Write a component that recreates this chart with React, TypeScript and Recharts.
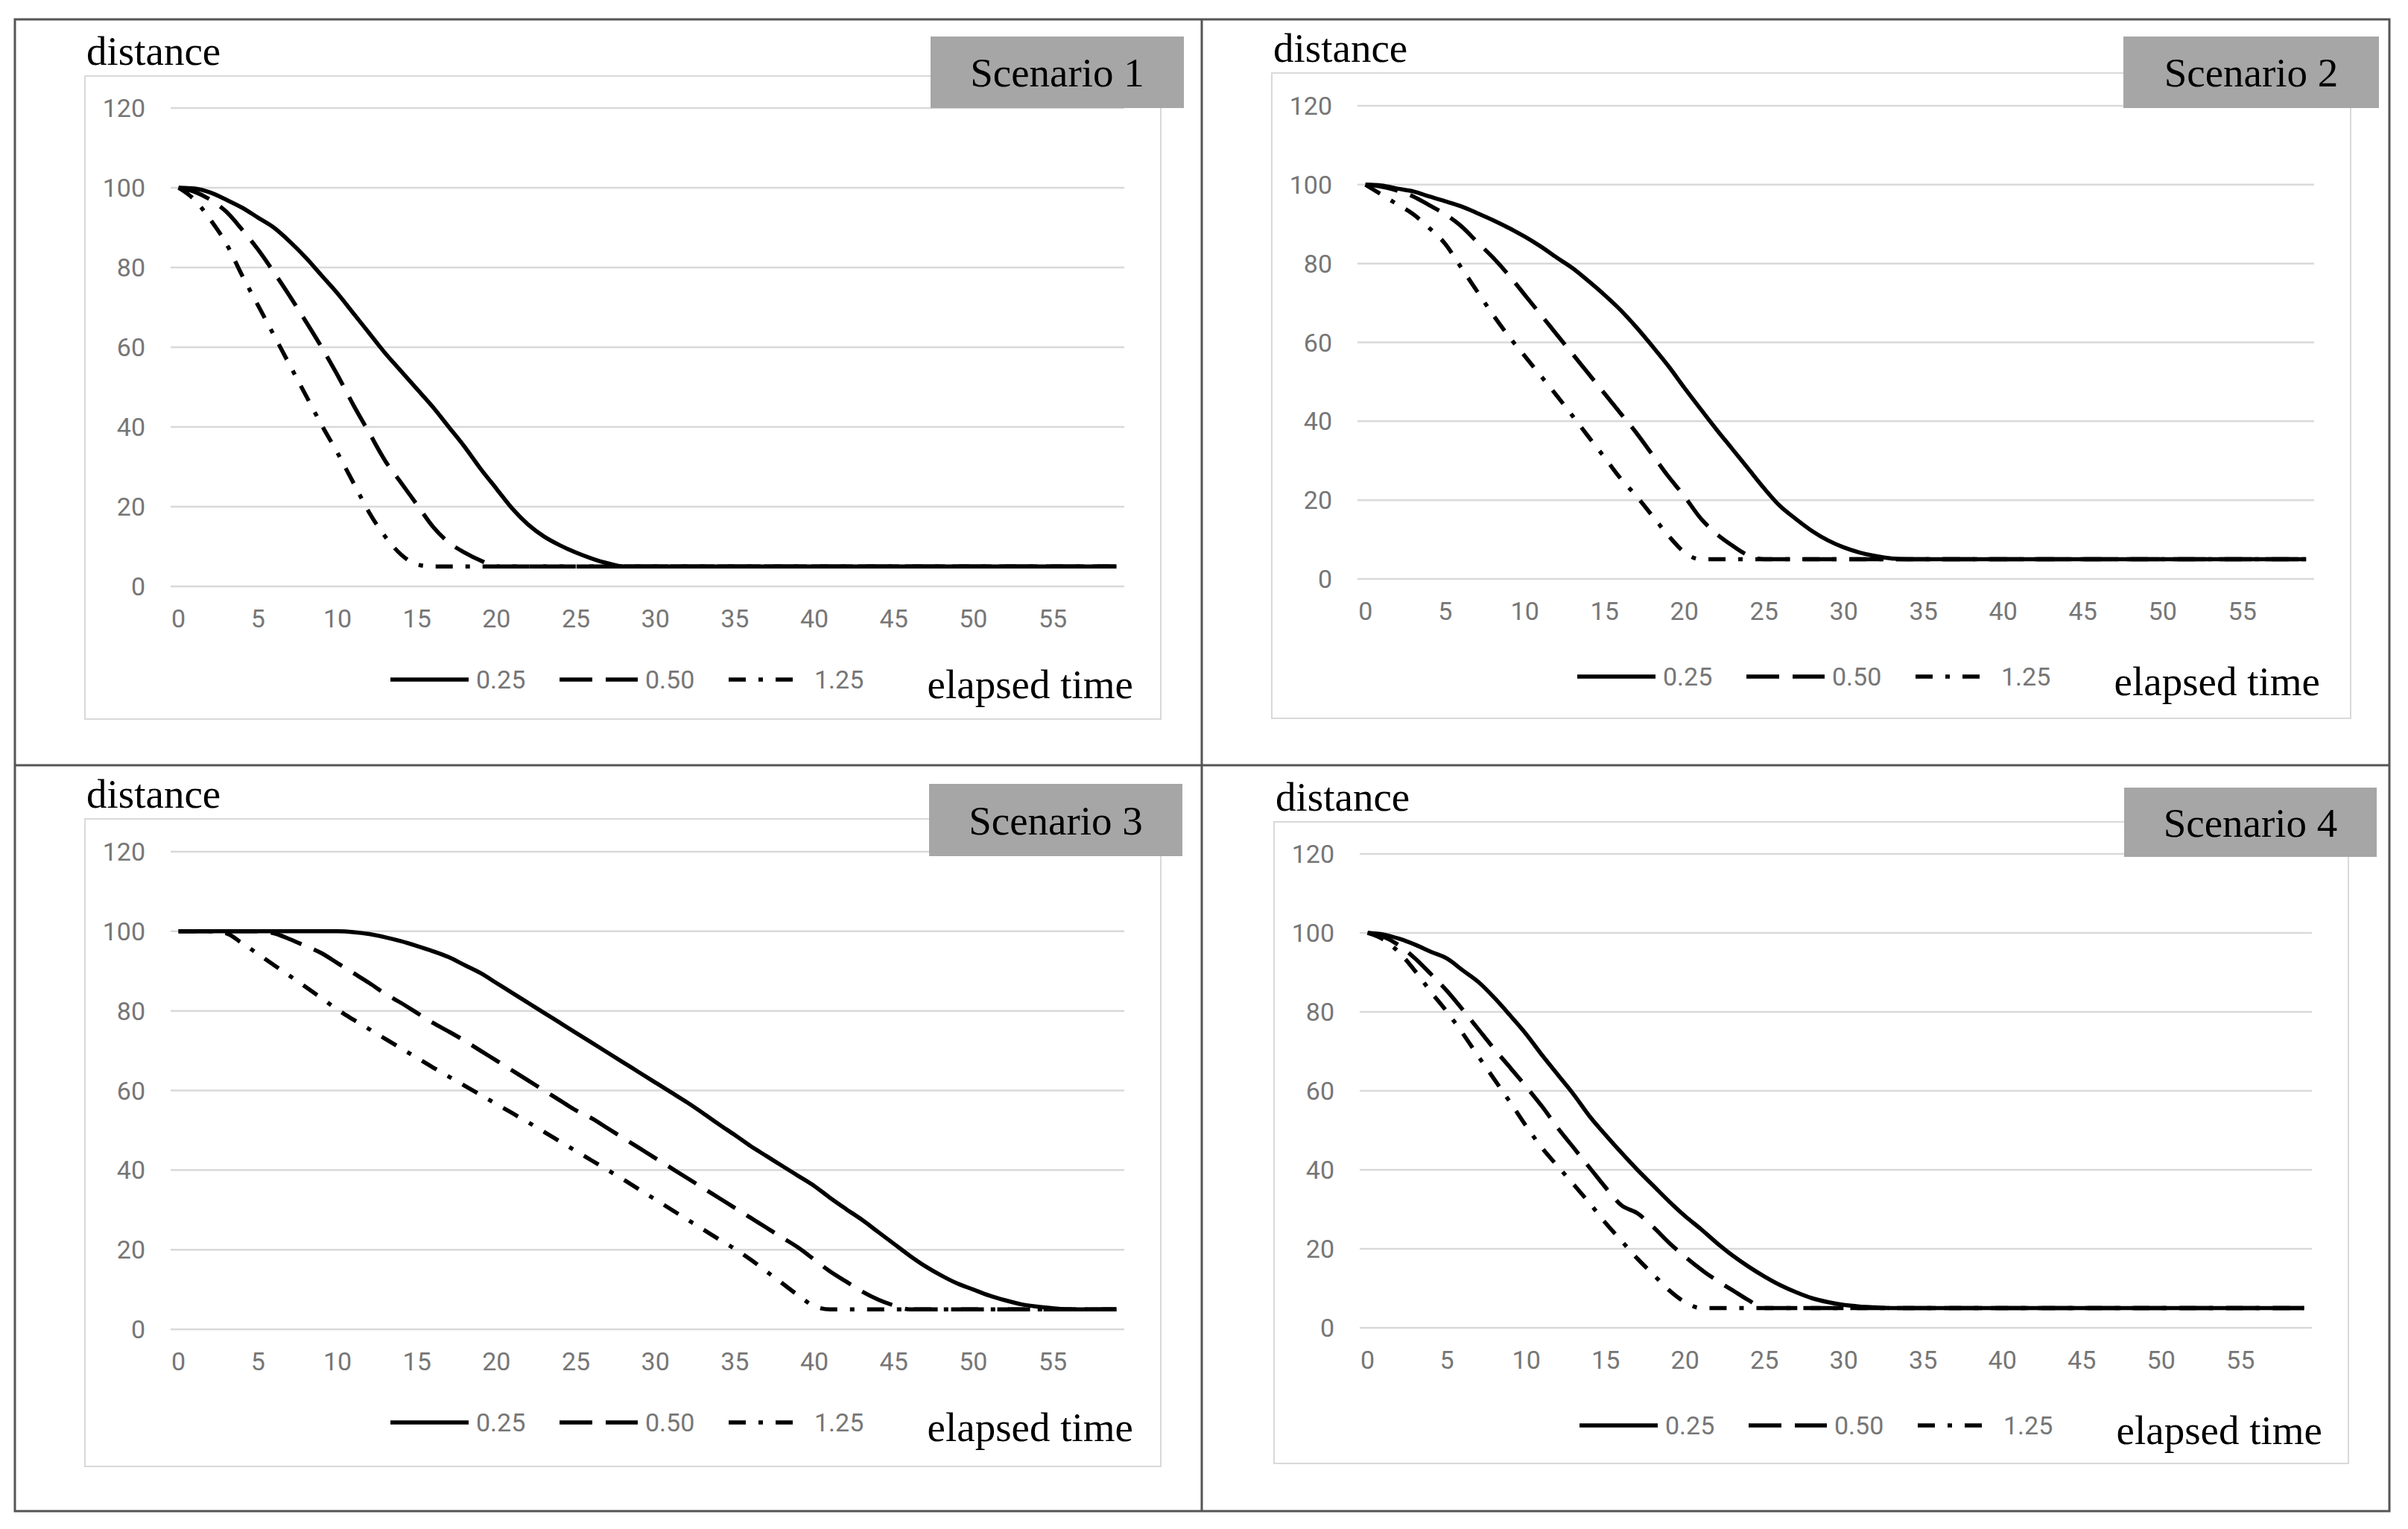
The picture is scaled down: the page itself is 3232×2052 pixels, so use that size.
import React from 'react';
import { LineChart, Line, XAxis, YAxis, CartesianGrid } from 'recharts';

// elapsed time (category axis)
const TIME = [0,1,2,3,4,5,6,7,8,9,10,11,12,13,14,15,16,17,18,19,20,21,22,23,24,25,26,27,28,29,30,31,32,33,34,35,36,37,38,39,40,41,42,43,44,45,46,47,48,49,50,51,52,53,54,55,56,57,58,59];
const X_TICKS = [0,5,10,15,20,25,30,35,40,45,50,55];
const Y_TICKS = [0,20,40,60,80,100,120];
const SERIES_NAMES = ['0.25', '0.50', '1.25'];
const SCENARIOS = ['Scenario 1', 'Scenario 2', 'Scenario 3', 'Scenario 4'];

// Scenario 1
const S1_025 = [100,99.8,98.8,97,95,92.5,90,86.5,82.5,78,73.5,68.5,63.5,58.5,54,49.5,45,40,35,29.5,24.5,19.5,15.5,12.5,10.3,8.5,7,5.8,5,5,5,5,5,5,5,5,5,5,5,5,5,5,5,5,5,5,5,5,5,5,5,5,5,5,5,5,5,5,5,5];
const S1_050 = [100,99,97,94,89.5,84.5,78.8,72.8,66.5,60,53,45.5,38.5,31.5,26,20.5,15,11,8.5,6.5,5,5,5,5,5,5,5,5,5,5,5,5,5,5,5,5,5,5,5,5,5,5,5,5,5,5,5,5,5,5,5,5,5,5,5,5,5,5,5,5];
const S1_125 = [100,97,92,86,78,70.5,63,55.5,48,40.5,33.5,26,18.5,12.5,8,5.5,5,5,5,5,5,5,5,5,5,5,5,5,5,5,5,5,5,5,5,5,5,5,5,5,5,5,5,5,5,5,5,5,5,5,5,5,5,5,5,5,5,5,5,5];

// Scenario 2
const S2_025 = [100,99.8,99,98.3,97,95.8,94.5,92.8,91,89,86.8,84.3,81.5,78.8,75.5,72,68.2,63.8,59,54,48.5,43.2,38,33,28,23,18.5,15.2,12.2,9.8,8,6.7,5.8,5.2,5,5,5,5,5,5,5,5,5,5,5,5,5,5,5,5,5,5,5,5,5,5,5,5,5,5];
const S2_050 = [100,99.5,98.5,97,94.8,92.5,89.5,85.5,81.5,77,72,67,62,57,52,47,42,37,31.5,26,21,15.5,11.5,8.5,6,5,5,5,5,5,5,5,5,5,5,5,5,5,5,5,5,5,5,5,5,5,5,5,5,5,5,5,5,5,5,5,5,5,5,5];
const S2_125 = [100,97.5,95,92.5,89,85,79,73,67,61.5,56.5,51.5,46.5,41.3,36,30.8,25.5,21,16,11,6.8,5,5,5,5,5,5,5,5,5,5,5,5,5,5,5,5,5,5,5,5,5,5,5,5,5,5,5,5,5,5,5,5,5,5,5,5,5,5,5];

// Scenario 3
const S3_025 = [100,100,100,100,100,100,100,100,100,100,100,99.8,99.3,98.5,97.5,96.3,95,93.5,91.5,89.5,87,84.5,82,79.5,77,74.5,72,69.5,67,64.5,62,59.5,57,54.3,51.5,48.8,46,43.5,41,38.5,36,33,30.2,27.5,24.5,21.5,18.5,15.8,13.5,11.5,10,8.5,7.3,6.3,5.7,5.3,5,5,5,5];
const S3_050 = [100,100,100,100,100,100,99.5,98,96.3,94.5,92,89.5,87,84.3,82,79.5,77,74.8,72.5,70,67.5,65,62.5,60,57.5,55,53,50.5,48,45.5,43,40.5,38,35.5,33,30.5,28,25.5,23,20.5,17.5,14.5,12,9.5,7.5,6,5,5,5,5,5,5,5,5,5,5,5,5,5,5];
const S3_125 = [100,100,100,99.5,97,94.3,91.5,88.8,86,83.2,80.3,77.8,75.4,73,70.6,68.2,65.8,63.5,61.2,58.9,56.6,54.3,52,49.6,47.2,44.8,42.4,40,37.6,35.1,32.6,30.1,27.6,25.1,22.6,20.2,17.5,14.5,11.5,8.5,5.8,5,5,5,5,5,5,5,5,5,5,5,5,5,5,5,5,5,5,5];

// Scenario 4
const S4_025 = [100,99.6,98.5,97,95.2,93.5,90.5,87.5,83.5,79,74.3,69,64,59,53.5,48.8,44.3,40,36,32,28.3,25,21.5,18.3,15.5,13,10.8,9,7.5,6.5,5.8,5.4,5.2,5,5,5,5,5,5,5,5,5,5,5,5,5,5,5,5,5,5,5,5,5,5,5,5,5,5,5];
const S4_050 = [100,99,96.8,93.5,89.5,85.3,80.5,75.5,70.5,65.8,61,56,50.5,45.5,40.5,35.5,31,29,25.5,21.5,18,14.8,12,9.5,7,5,5,5,5,5,5,5,5,5,5,5,5,5,5,5,5,5,5,5,5,5,5,5,5,5,5,5,5,5,5,5,5,5,5,5];
const S4_125 = [100,98.3,95,90.3,85,80,74.5,68.6,62.8,57,51,45.5,40.8,36.2,31.5,26.5,22,17.5,13.5,9.5,6.5,5,5,5,5,5,5,5,5,5,5,5,5,5,5,5,5,5,5,5,5,5,5,5,5,5,5,5,5,5,5,5,5,5,5,5,5,5,5,5];

const SERIES_BY_PANEL = [
  [S1_025, S1_050, S1_125],
  [S2_025, S2_050, S2_125],
  [S3_025, S3_050, S3_125],
  [S4_025, S4_050, S4_125],
];

const LAYOUT = [
  { box: { x: 114, y: 102, w: 1446, h: 865 }, plot: { x0: 229, x1: 1509, y0: 145, y1: 787 }, scen: { x: 1135, y: -53, w: 340, h: 96 } },
  { box: { x: 1707, y: 98, w: 1450, h: 868 }, plot: { x0: 1822, x1: 3106, y0: 142, y1: 777 }, scen: { x: 1143, y: -49, w: 343, h: 96 } },
  { box: { x: 114, y: 1099, w: 1446, h: 871 }, plot: { x0: 229, x1: 1509, y0: 1143, y1: 1784 }, scen: { x: 1133, y: -47, w: 340, h: 97 } },
  { box: { x: 1710, y: 1103, w: 1444, h: 863 }, plot: { x0: 1825, x1: 3103, y0: 1146, y1: 1782 }, scen: { x: 1141, y: -46, w: 339, h: 93 } },
];

const SERIF = "'Liberation Serif', 'Times New Roman', serif";
const SANS = "Roboto, 'Open Sans', sans-serif";
const TICK_COLOR = '#767676';
const TICK_SIZE = 34;
const LW = 5.5;
const DASHES = [undefined, '44 18', '23 17 6 17'];

function Panel({ idx }: { idx: number }) {
  const { box, plot, scen } = LAYOUT[idx];
  const series = SERIES_BY_PANEL[idx];
  const data = TIME.map((t, i) => ({ t, a: series[0][i], b: series[1][i], c: series[2][i] }));
  const yw = plot.x0 - box.x;
  const mr = box.x + box.w - plot.x1;
  const mt = plot.y0 - box.y;
  const xh = 70;
  const mb = box.y + box.h - plot.y1 - xh;
  const keys = ['a', 'b', 'c'];
  const legX = 410;
  const legY = 810;
  return (
    <>
      <div style={{ position: 'absolute', left: box.x - 1, top: box.y - 1, width: box.w, height: box.h, border: '2.5px solid #d9d9d9', boxSizing: 'border-box' }} />
      <div style={{ position: 'absolute', left: box.x, top: box.y, width: box.w, height: box.h }}>
        <LineChart width={box.w} height={box.h} data={data} margin={{ top: mt, right: mr, bottom: mb, left: 0 }}>
          <CartesianGrid vertical={false} stroke="#d9d9d9" strokeWidth={2.5} />
          <XAxis
            dataKey="t"
            type="number"
            domain={[-0.5, 59.5]}
            ticks={X_TICKS}
            allowDataOverflow
            interval={0}
            axisLine={false}
            tickLine={false}
            tickSize={0}
            tickMargin={31}
            height={xh}
            tick={{ fill: TICK_COLOR, fontSize: TICK_SIZE, fontFamily: SANS }}
          />
          <YAxis
            type="number"
            domain={[0, 120]}
            ticks={Y_TICKS}
            interval={0}
            width={yw}
            axisLine={false}
            tickLine={false}
            tickSize={0}
            tickMargin={34}
            tick={{ fill: TICK_COLOR, fontSize: TICK_SIZE, fontFamily: SANS }}
          />
          {keys.map((k, i) => (
            <Line
              key={k}
              dataKey={k}
              name={SERIES_NAMES[i]}
              type="monotone"
              stroke="#000"
              strokeWidth={LW}
              strokeDasharray={DASHES[i]}
              strokeLinecap="butt"
              dot={false}
              activeDot={false}
              isAnimationActive={false}
            />
          ))}
        </LineChart>
      </div>
      <svg
        style={{ position: 'absolute', left: box.x, top: box.y, overflow: 'visible', pointerEvents: 'none' }}
        width={box.w}
        height={box.h}
      >
        <text x={2} y={-15} fontFamily={SERIF} fontSize={55} fill="#000">distance</text>
        <rect x={scen.x} y={scen.y} width={scen.w} height={scen.h} fill="#a6a6a6" />
        <text x={scen.x + scen.w / 2} y={scen.y + scen.h / 2 + 19} textAnchor="middle" fontFamily={SERIF} fontSize={55} fill="#000">
          {SCENARIOS[idx]}
        </text>
        {SERIES_NAMES.map((n, i) => {
          const x = legX + i * 227;
          const len = i === 2 ? 86 : 105;
          return (
            <g key={n}>
              <line x1={x} y1={legY} x2={x + len} y2={legY} stroke="#000" strokeWidth={LW} strokeDasharray={DASHES[i]} />
              <text x={x + 115} y={legY} dominantBaseline="central" fontFamily={SANS} fontSize={TICK_SIZE} fill={TICK_COLOR}>{n}</text>
            </g>
          );
        })}
        <text x={1407} y={835} textAnchor="end" fontFamily={SERIF} fontSize={55} fill="#000">elapsed time</text>
      </svg>
    </>
  );
}

export default function App() {
  return (
    <div style={{ position: 'absolute', left: 0, top: 0, width: 3232, height: 2052, background: '#fff', overflow: 'hidden' }}>
      <svg style={{ position: 'absolute', left: 0, top: 0 }} width={3232} height={2052}>
        <rect x={20} y={26} width={3187} height={2002} fill="none" stroke="#555" strokeWidth={3} />
        <line x1={1613} y1={26} x2={1613} y2={2028} stroke="#555" strokeWidth={3} />
        <line x1={20} y1={1027} x2={3207} y2={1027} stroke="#555" strokeWidth={3} />
      </svg>
      {[0, 1, 2, 3].map((i) => (
        <Panel key={i} idx={i} />
      ))}
    </div>
  );
}
